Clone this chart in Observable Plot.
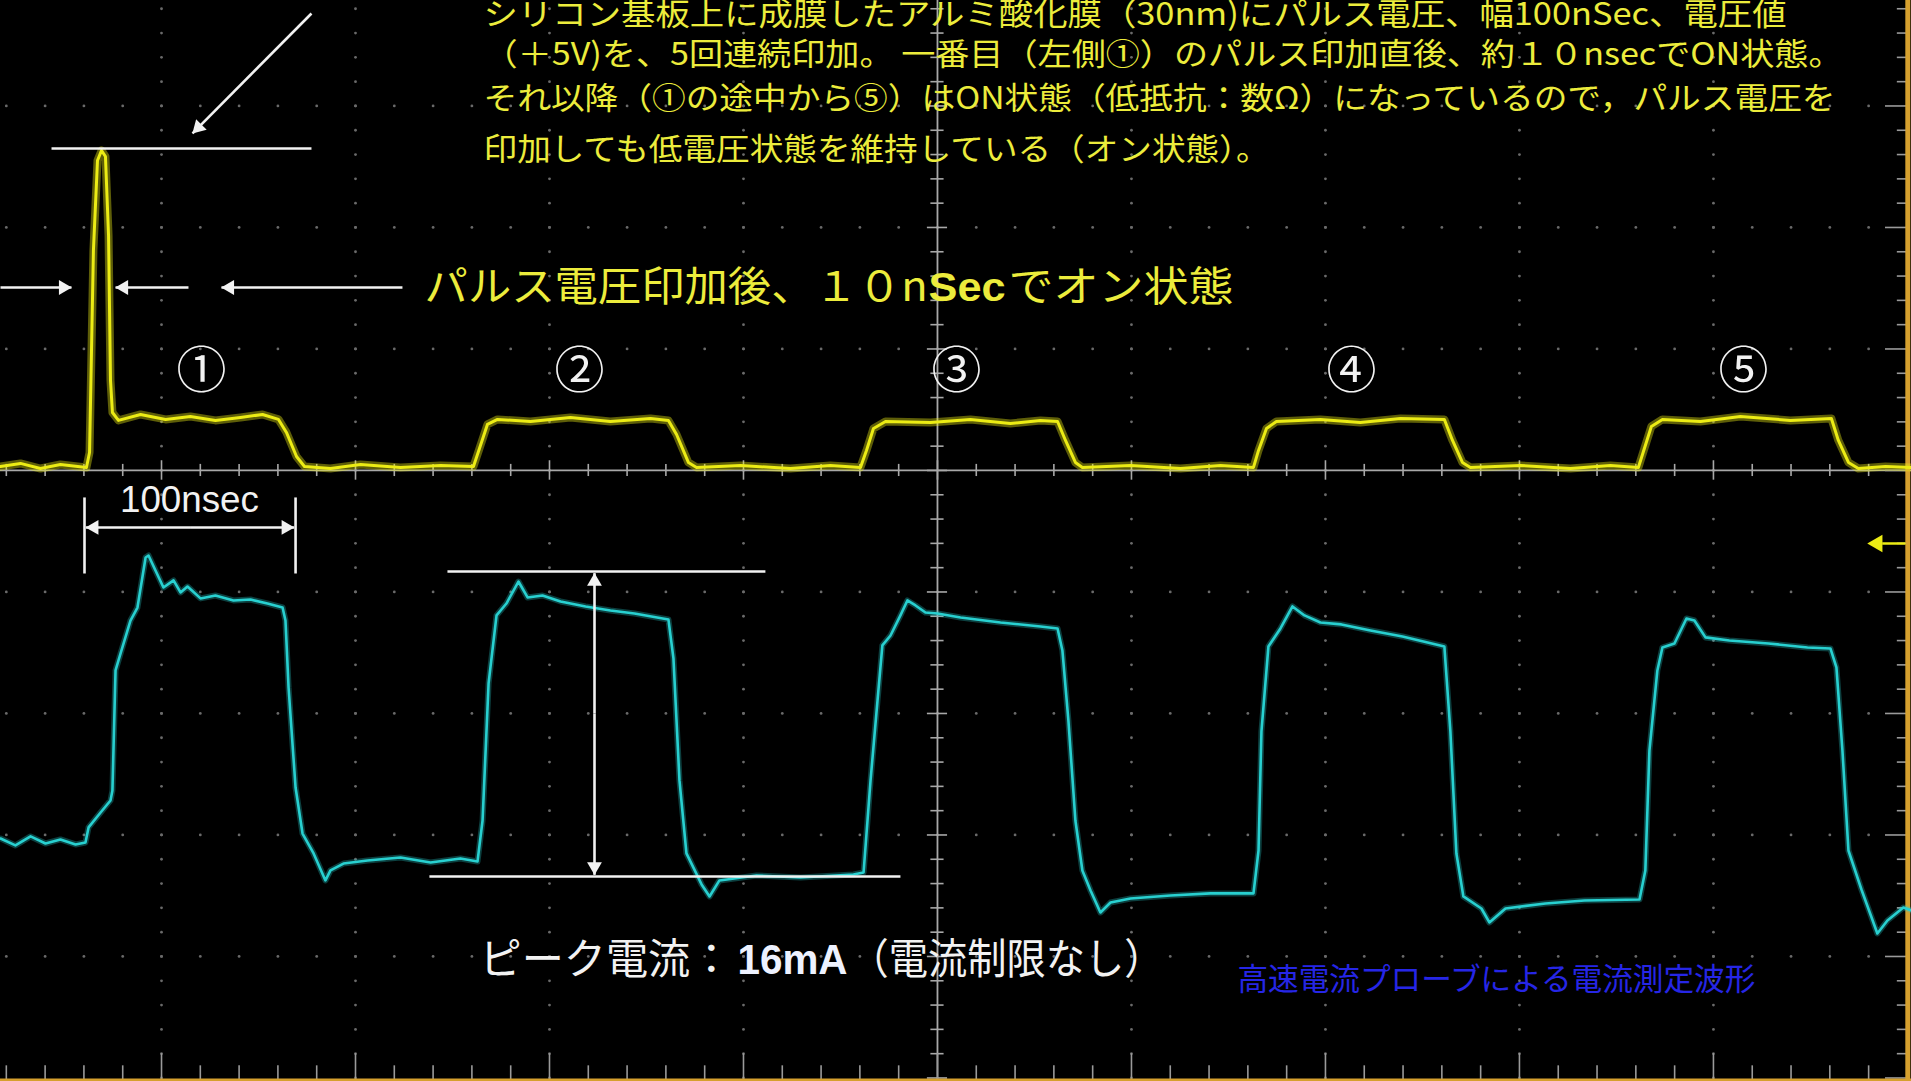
<!DOCTYPE html>
<html><head><meta charset="utf-8">
<script src="https://cdn.jsdelivr.net/npm/d3@7"></script>
<script src="https://cdn.jsdelivr.net/npm/@observablehq/plot@0.6"></script>
<style>html,body{margin:0;padding:0;background:#000;overflow:hidden}#chart svg{display:block}</style>
</head><body><div id="chart"></div>
<script>
// ---- data (time in ns, level in screen divisions) ----
const yellowTrace = [[-483.0,0.033],[-472.7,0.058],[-462.4,0.016],[-452.1,0.049],[-438.7,0.025],[-437.1,0.148],[-435.1,1.811],[-433.0,2.551],[-430.9,2.634],[-428.9,2.584],[-427.3,1.934],[-426.3,0.741],[-425.3,0.477],[-422.2,0.412],[-410.8,0.461],[-397.9,0.420],[-385.1,0.444],[-372.2,0.412],[-359.3,0.436],[-347.9,0.461],[-339.7,0.420],[-335.6,0.313],[-330.4,0.115],[-326.3,0.033],[-312.9,0.016],[-297.4,0.049],[-276.8,0.025],[-256.2,0.041],[-239.2,0.033],[-236.1,0.181],[-232.0,0.379],[-226.8,0.420],[-209.8,0.403],[-189.2,0.436],[-168.6,0.403],[-147.9,0.428],[-138.7,0.412],[-134.5,0.296],[-128.4,0.066],[-124.2,0.025],[-101.5,0.041],[-75.8,0.016],[-55.2,0.041],[-39.7,0.025],[-36.6,0.165],[-33.0,0.346],[-26.8,0.403],[-3.6,0.395],[17.0,0.420],[37.6,0.387],[53.1,0.412],[61.9,0.403],[66.0,0.247],[71.1,0.066],[74.7,0.025],[99.5,0.041],[125.3,0.016],[145.9,0.041],[162.9,0.025],[165.5,0.165],[169.6,0.346],[174.7,0.403],[197.4,0.420],[218.0,0.395],[238.7,0.428],[261.3,0.420],[265.5,0.247],[270.6,0.066],[274.7,0.025],[300.5,0.041],[326.3,0.016],[346.9,0.041],[361.3,0.025],[364.4,0.181],[368.0,0.362],[373.7,0.420],[393.3,0.403],[413.9,0.444],[439.7,0.412],[460.8,0.428],[464.4,0.247],[469.6,0.066],[474.7,0.016],[488.7,0.033],[502.1,0.025]];

const cyanTrace = [[-483.0,-3.029],[-475.3,-3.086],[-467.5,-3.012],[-459.8,-3.070],[-452.1,-3.037],[-444.3,-3.078],[-439.2,-3.062],[-437.6,-2.938],[-431.4,-2.815],[-426.3,-2.716],[-425.3,-2.634],[-423.7,-1.646],[-421.1,-1.506],[-416.0,-1.235],[-412.4,-1.128],[-408.2,-0.716],[-406.7,-0.700],[-403.1,-0.823],[-399.0,-0.963],[-393.8,-0.905],[-390.2,-1.004],[-386.6,-0.955],[-379.9,-1.053],[-372.2,-1.029],[-362.9,-1.070],[-354.1,-1.062],[-345.4,-1.095],[-337.6,-1.128],[-336.1,-1.235],[-334.5,-1.786],[-330.9,-2.609],[-327.3,-2.988],[-321.6,-3.152],[-315.5,-3.374],[-312.9,-3.292],[-306.2,-3.235],[-293.8,-3.210],[-276.8,-3.185],[-261.3,-3.226],[-245.9,-3.193],[-237.1,-3.218],[-234.5,-2.881],[-231.4,-1.753],[-227.3,-1.193],[-222.2,-1.095],[-216.0,-0.914],[-211.3,-1.045],[-203.6,-1.029],[-194.3,-1.078],[-181.4,-1.119],[-168.6,-1.152],[-156.2,-1.177],[-138.7,-1.226],[-136.1,-1.547],[-133.0,-2.551],[-129.4,-3.152],[-121.6,-3.407],[-117.5,-3.506],[-112.4,-3.374],[-93.3,-3.333],[-70.6,-3.350],[-43.3,-3.325],[-38.1,-3.309],[-34.5,-2.551],[-30.9,-1.893],[-28.4,-1.440],[-24.2,-1.358],[-19.1,-1.193],[-15.5,-1.070],[-11.3,-1.111],[-6.2,-1.169],[0,-1.177],[11.9,-1.210],[32.5,-1.251],[53.1,-1.284],[61.9,-1.300],[64.4,-1.481],[67.5,-2.058],[71.1,-2.881],[74.7,-3.292],[78.9,-3.457],[84.0,-3.638],[89.2,-3.556],[99.5,-3.523],[120.1,-3.498],[140.7,-3.481],[162.9,-3.481],[165.5,-3.128],[167.0,-2.148],[170.6,-1.449],[176.8,-1.300],[183.0,-1.119],[189.2,-1.193],[197.4,-1.251],[208.2,-1.267],[223.2,-1.317],[239.7,-1.366],[261.3,-1.449],[264.4,-2.148],[267.5,-3.152],[271.1,-3.506],[280.4,-3.605],[284.5,-3.720],[292.8,-3.605],[313.4,-3.564],[333.5,-3.539],[361.9,-3.531],[364.9,-3.292],[367.0,-2.305],[371.1,-1.646],[373.7,-1.457],[379.9,-1.424],[386.1,-1.218],[390.2,-1.235],[395.9,-1.374],[408.2,-1.399],[428.4,-1.424],[448.5,-1.457],[460.3,-1.465],[463.4,-1.621],[466.5,-2.305],[469.6,-3.128],[476.3,-3.449],[484.5,-3.811],[489.7,-3.704],[497.9,-3.597],[502.1,-3.621]];

// annotation segments [t1, v1, t2, v2]
const plainSegments = [
  [-456.7, 2.650, -322.7, 2.650],
  [-439.7, -0.222, -439.7, -0.848],
  [-330.9, -0.222, -330.9, -0.848],
  [-252.6, -0.831, -88.7, -0.831],
  [-261.9, -3.342, -19.1, -3.342]
];
// arrows [t1, v1, tipT, tipV]
const arrowSegments = [
  [-322.7, 3.761, -384.0, 2.774],
  [-483.0, 1.506, -446.4, 1.506],
  [-386.1, 1.506, -423.7, 1.506],
  [-275.8, 1.506, -369.1, 1.506],
  [-385.3, -0.469, -439.0, -0.469],
  [-385.3, -0.469, -331.6, -0.469],
  [-176.8, -2.0, -176.8, -0.845],
  [-176.8, -2.0, -176.8, -3.328]
];

const topLines = [
  "シリコン基板上に成膜したアルミ酸化膜（30nm)にパルス電圧、幅100nSec、電圧値",
  "（＋5V)を、5回連続印加。 一番目（左側①）のパルス印加直後、約１０nsecでON状態。",
  "それ以降（①の途中から⑤）はON状態（低抵抗：数Ω）になっているので，パルス電圧を",
  "印加しても低電圧状態を維持している（オン状態）。"
];
const topLineV = [3.745, 3.416, 3.058, 2.634];
const pulseLabels = ["①","②","③","④","⑤"];
const pulseLabelT = [-379.4, -184.5, 9.8, 213.4, 415.5];
const onTextPlain = ["パルス電圧印加後、１０n", "でオン状態"];
const onTextPlainT = [-264.4, 36.6];
const onTextBold = "Sec";
const onTextBoldT = -4.6;
const peakTextPlain = ["ピーク電流：", "（電流制限なし）"];
const peakTextPlainT = [-236.1, -45.4];
const peakTextBold = "16mA";
const peakTextBoldT = -103.1;
const widthLabel = "100nsec";
const probeText = "高速電流プローブによる電流測定波形";
const groundMarkerV = -0.601;

// ---- scale setup ----
const W = 1911, H = 1081;
const xDomain = [-483.0, 502.1], yDomain = [-5.029, 3.868];
const kx = W / (xDomain[1] - xDomain[0]), ky = H / (yDomain[1] - yDomain[0]);

const majorT = [-400, -300, -200, -100, 100, 200, 300, 400];
const majorV = [-4, -3, -2, -1, 1, 2, 3];
const minorT = d3.range(-24, 26).map(i => i * 20);
const minorV = d3.range(-25, 20).map(i => i / 5);
const isInt = v => Math.abs(v - Math.round(v)) < 1e-6;

const gridDots = majorT.flatMap(t => minorV.map(v => ({t, v})))
  .concat(majorV.flatMap(v => minorT.map(t => ({t, v}))));

const heads = arrowSegments.map(([t1, v1, t2, v2]) => {
  const dx = (t2 - t1) * kx, dy = -(v2 - v1) * ky, L = Math.hypot(dx, dy);
  const ux = dx / L, uy = dy / L, back = 8.3;
  return {t: t2 - ux * back / kx, v: v2 + uy * back / ky, rot: Math.atan2(ux, -uy) * 180 / Math.PI};
});

const YEL = "#ecec14", YTXT = "#ecec3c", CYA = "#28d0d0", WHT = "#f2f2f2", GRID = "#6a6a6a", CL = "#a8a8a8", ORG = "#d6a02e";
const JP = "Noto Sans CJK JP", LAT = "Liberation Sans, Arial, sans-serif";

const plot = Plot.plot({
  width: W, height: H, margin: 0,
  x: {domain: xDomain, axis: null},
  y: {domain: yDomain, axis: null},
  style: {background: "#000", color: "#fff"},
  marks: [
    Plot.dot(gridDots, {x: "t", y: "v", r: 1.4, fill: GRID, stroke: null}),
    Plot.ruleY([0], {stroke: CL, strokeWidth: 1.8}),
    Plot.ruleX([0], {stroke: CL, strokeWidth: 1.8}),
    Plot.ruleX(minorT, {x: d => d, y1: d => d % 100 === 0 ? -0.08 : -0.05, y2: d => d % 100 === 0 ? 0.08 : 0.05, stroke: CL, strokeWidth: 1.6}),
    Plot.ruleY(minorV, {y: d => d, x1: d => isInt(d) ? -5.2 : -3.4, x2: d => isInt(d) ? 5.2 : 3.4, stroke: CL, strokeWidth: 1.6}),
    Plot.ruleX(minorT, {x: d => d, y1: -5.03, y2: d => d % 100 === 0 ? -4.8 : -4.9, stroke: "#9a9a9a", strokeWidth: 1.6}),
    Plot.ruleY(minorV, {y: d => d, x1: d => isInt(d) ? 488.7 : 494.8, x2: 500, stroke: "#9a9a9a", strokeWidth: 1.6}),
    Plot.ruleX([500.2], {stroke: ORG, strokeWidth: 5}),
    Plot.ruleY([-5.02], {stroke: ORG, strokeWidth: 4}),
    // traces
    Plot.line(yellowTrace, {x: d => d[0], y: d => d[1], stroke: YEL, strokeWidth: 8, strokeOpacity: 0.4}),
    Plot.line(yellowTrace, {x: d => d[0], y: d => d[1], stroke: YEL, strokeWidth: 3}),
    Plot.line(cyanTrace, {x: d => d[0], y: d => d[1], stroke: CYA, strokeWidth: 6, strokeOpacity: 0.3}),
    Plot.line(cyanTrace, {x: d => d[0], y: d => d[1], stroke: CYA, strokeWidth: 2.6}),
    // annotations
    Plot.link(plainSegments, {x1: d => d[0], y1: d => d[1], x2: d => d[2], y2: d => d[3], stroke: WHT, strokeWidth: 2.6}),
    Plot.link(arrowSegments, {x1: d => d[0], y1: d => d[1], x2: d => d[2], y2: d => d[3], stroke: WHT, strokeWidth: 2.6}),
    Plot.dot(heads, {x: "t", y: "v", rotate: "rot", symbol: "triangle", r: 5.5, fill: WHT, stroke: null}),
    // ground marker
    Plot.link([groundMarkerV], {x1: 487.0, x2: 499, y1: d => d, y2: d => d, stroke: YEL, strokeWidth: 2.5}),
    Plot.dot([groundMarkerV], {x: 484.5, y: d => d, symbol: "triangle", rotate: 270, r: 6.5, fill: YEL, stroke: null}),
    // texts
    Plot.text(topLines, {x: -234.0, y: (d, i) => topLineV[i], text: d => d, textAnchor: "start", fill: YTXT, fontSize: 31, fontFamily: JP}),
    Plot.text(onTextPlain, {x: (d, i) => onTextPlainT[i], y: 1.506, text: d => d, textAnchor: "start", fill: YTXT, fontSize: 41, fontFamily: JP}),
    Plot.text([onTextBold], {x: onTextBoldT, y: 1.506, text: d => d, textAnchor: "start", fill: YTXT, fontSize: 41, fontFamily: LAT, fontWeight: "bold"}),
    Plot.text(pulseLabels, {x: (d, i) => pulseLabelT[i], y: 0.807, text: d => d, fill: WHT, fontSize: 50, fontFamily: JP}),
    Plot.text([widthLabel], {x: -385.6, y: -0.247, text: d => d, fill: WHT, fontSize: 37, fontFamily: LAT}),
    Plot.text(peakTextPlain, {x: (d, i) => peakTextPlainT[i], y: -4.033, text: d => d, textAnchor: "start", fill: WHT, fontSize: 42, fontFamily: JP}),
    Plot.text([peakTextBold], {x: peakTextBoldT, y: -4.033, text: d => d, textAnchor: "start", fill: "#eef2ff", fontSize: 43, fontFamily: LAT, fontWeight: "bold"}),
    Plot.text([probeText], {x: 154.6, y: -4.198, text: d => d, textAnchor: "start", fill: "#2626e6", fontSize: 31, fontFamily: JP})
  ]
});

// fit text widths to the reference
const textWidths = new Map([
  [topLines[0], 1303], [topLines[1], 1359], [topLines[2], 1352], [topLines[3], 786],
  [onTextPlain[0], 503], [onTextBold, 77], [onTextPlain[1], 225],
  [widthLabel, 139],
  [peakTextPlain[0], 253], [peakTextBold, 110], [peakTextPlain[1], 314],
  [probeText, 518]
]);
d3.select(plot).selectAll("text").each(function () {
  const s = this.textContent;
  if (textWidths.has(s)) {
    this.setAttribute("textLength", textWidths.get(s));
    this.setAttribute("lengthAdjust", "spacingAndGlyphs");
  }
});
document.getElementById("chart").appendChild(plot);
</script>
</body></html>
